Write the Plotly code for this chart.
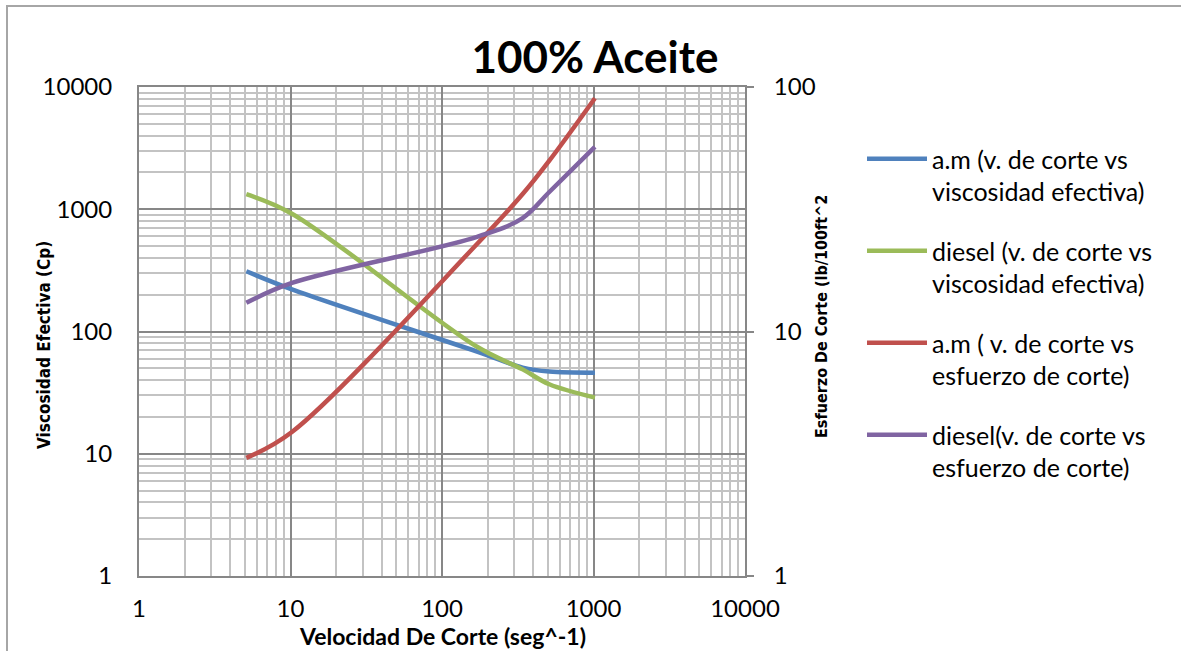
import plotly.graph_objects as go

# Shear rate (seg^-1) at each measurement
shear_rate = [5.11, 10.22, 170.3, 340.6, 510.9, 1021.8]

# Effective viscosity (cP) - left axis
visc_am = [311, 221, 68.5, 50.7, 47, 46]
visc_diesel = [1327, 920, 75, 49, 37, 28.8]

# Shear stress (lb/100ft^2) - right axis
stress_am = [3.04, 3.88, 22.8, 36.5, 50, 90]
stress_diesel = [13.1, 15.8, 24.4, 29.1, 37.2, 56.9]

series_names = [
    "a.m (v. de corte vs<br>viscosidad efectiva)",
    "diesel (v. de corte vs<br>viscosidad efectiva)",
    "a.m ( v. de corte vs<br>esfuerzo de corte)",
    "diesel(v. de corte vs<br>esfuerzo de corte)",
]
series_colors = ["#4F81BD", "#9BBB59", "#C0504D", "#8064A2"]

x_ticks = [1, 10, 100, 1000, 10000]
x_ticktext = ["1", "10", "100", "1000", "10000"]
y_ticks = [1, 10, 100, 1000, 10000]
y_ticktext = ["1", "10", "100", "1000", "10000"]
y2_ticks = [1, 10, 100]
y2_ticktext = ["1", "10", "100"]

FONT = "Lato, Carlito, Calibri, sans-serif"
NARROW = "Liberation Sans Narrow, Arial Narrow, DejaVu Sans Condensed, sans-serif"
MAJOR = "#878787"
MINOR = "#c3c3c3"

fig = go.Figure()
data = [
    (visc_am, "y"),
    (visc_diesel, "y"),
    (stress_am, "y2"),
    (stress_diesel, "y2"),
]
for i, (vals, ax) in enumerate(data):
    fig.add_trace(go.Scatter(
        x=shear_rate, y=vals, yaxis=ax, mode="lines",
        name=series_names[i], legendgroup=f"g{i}",
        line=dict(color=series_colors[i], width=4.5, shape="spline", smoothing=1.0),
    ))

W, H = 1181, 651
L, R, T, B = 139, 745, 87, 576
pw, ph = R - L, B - T


def px(xp):
    return (xp - L) / pw


def py(yp):
    return (B - yp) / ph


fig.update_layout(
    width=W, height=H,
    margin=dict(l=L, r=W - R, t=T, b=H - B, pad=0),
    paper_bgcolor="white", plot_bgcolor="white",
    font=dict(family=FONT, color="black", size=24),
    showlegend=True,
    legend=dict(
        x=px(862), y=py(136), xanchor="left", yanchor="top",
        font=dict(family=FONT, size=25, color="black"),
        valign="top", itemwidth=60, tracegroupgap=24,
        bgcolor="rgba(0,0,0,0)", borderwidth=0,
    ),
    xaxis=dict(
        type="log", range=[0, 4],
        tickvals=x_ticks, ticktext=x_ticktext,
        ticks="", ticklabelstandoff=10,
        showgrid=True, gridcolor=MAJOR, gridwidth=2,
        minor=dict(dtick="D1", showgrid=True, gridcolor=MINOR, gridwidth=2, ticks=""),
        showline=True, linecolor=MAJOR, linewidth=2, mirror=True,
        zeroline=False, tickfont=dict(size=24),
    ),
    yaxis=dict(
        type="log", range=[0, 4],
        tickvals=y_ticks, ticktext=y_ticktext,
        ticks="", ticklabelstandoff=20,
        showgrid=True, gridcolor=MAJOR, gridwidth=2,
        minor=dict(dtick="D1", showgrid=True, gridcolor=MINOR, gridwidth=2, ticks=""),
        showline=True, linecolor=MAJOR, linewidth=2, mirror=True,
        zeroline=False, tickfont=dict(size=24),
    ),
    yaxis2=dict(
        type="log", range=[0, 2], overlaying="y", side="right",
        tickvals=y2_ticks, ticktext=y2_ticktext,
        ticks="outside", ticklen=8, tickwidth=2, tickcolor=MAJOR,
        ticklabelstandoff=15,
        showgrid=False, zeroline=False, showline=False,
        tickfont=dict(size=24),
    ),
    title=dict(
        text="<b>100% Aceite</b>", x=595 / W, xref="container", xanchor="center",
        y=1 - 58 / H, yref="container", yanchor="middle",
        font=dict(family=FONT, size=44, color="black"),
    ),
)

annotations = [
    dict(text="<b>Velocidad De Corte (seg^-1)</b>", x=0.5, y=py(636),
         font=dict(family=FONT, size=23, color="black")),
    dict(text="<b>Viscosidad Efectiva (Cp)</b>", x=px(44), y=py(345), textangle=-90,
         font=dict(family=NARROW, size=17, color="black")),
    dict(text="<b>Esfuerzo De Corte (lb/100ft^2</b>", x=px(821), y=py(317), textangle=-90,
         font=dict(family=NARROW, size=16, color="black")),
]
for a in annotations:
    fig.add_annotation(xref="paper", yref="paper", showarrow=False,
                       xanchor="center", yanchor="middle", **a)

# outer chart frame
fig.add_shape(type="rect", xref="paper", yref="paper",
              x0=px(7), x1=px(W + 20), y0=py(H + 20), y1=py(6),
              line=dict(color="#a6a6a6", width=2), layer="below")

fig.write_html("out.html")
